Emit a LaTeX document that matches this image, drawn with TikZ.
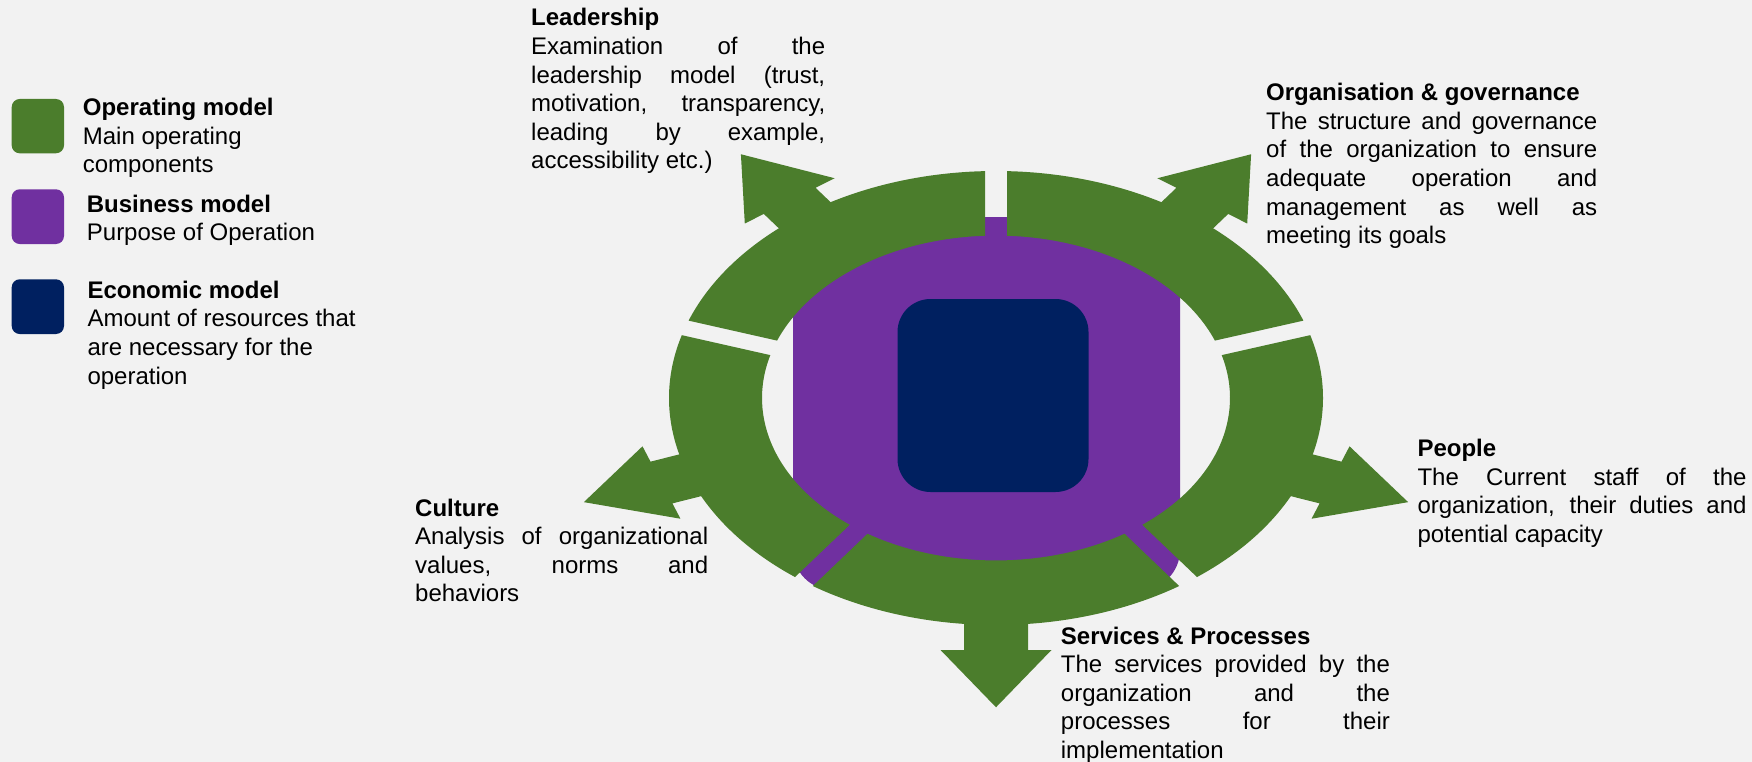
\documentclass[tikz,border=0pt]{standalone}
\usepackage{fontspec}
\setmainfont{Liberation Sans}
\usetikzlibrary{calc}
\definecolor{bg}{HTML}{F2F2F2}
\definecolor{opgreen}{HTML}{4B7D2C}
\definecolor{bizpurple}{HTML}{7030A0}
\definecolor{econavy}{HTML}{002060}
\newcommand{\jline}[2]{\makebox[#1][s]{#2}}
\newcommand{\ringseg}[2]{%
  \fill[opgreen] ({#1+1.928}:327) arc[start angle={#1+1.928}, end angle={#2-1.928}, radius=327]
    -- ({#2-2.694}:234) arc[start angle={#2-2.694}, end angle={#1+2.694}, radius=234] -- cycle;}
% #1 angle, #2 head base radius, #3 tip radius
\newcommand{\ringarrow}[3]{%
  \fill[opgreen, rotate=#1] (300,-32) -- (#2,-32) -- (#2,-55.5) -- (#3,0) -- (#2,55.5) -- (#2,32) -- (300,32) -- cycle;}
\tikzset{
  desc/.style={anchor=base west, inner sep=0pt, font=\fontsize{24}{28.6}\selectfont, text=black},
  legsq/.style={rounded corners=8pt},
}
\begin{document}
\begin{tikzpicture}[x=1pt,y=-1pt]
\useasboundingbox (0,0) rectangle (1752,762);
\fill[bg] (0,0) rectangle (1752,762);
% legend
\fill[opgreen, legsq] (11.7,99) rectangle (64,153.3);
\fill[bizpurple, legsq] (11.7,189.3) rectangle (64,244);
\fill[econavy, legsq] (11.7,279.3) rectangle (64,334);
\node[desc] (legop) at (82.7,115.7) {\parbox[t]{300pt}{\textbf{Operating model}\\Main operating\\components}};
\node[desc] (legbiz) at (86.7,212.3) {\parbox[t]{300pt}{\textbf{Business model}\\Purpose of Operation}};
\node[desc] (legeco) at (87.3,298.3) {\parbox[t]{300pt}{\textbf{Economic model}\\Amount of resources that\\are necessary for the\\operation}};
% business model
\fill[bizpurple, rounded corners=40pt] (793,217) rectangle (1180,590);
% ring
\begin{scope}[shift={(996,398)}, x=1pt, y=1pt, yscale=0.6942]
  \ringseg{18}{90}
  \ringseg{90}{162}
  \ringseg{162}{234}
  \ringseg{234}{306}
  \ringseg{306}{378}
  \ringarrow{54}{351}{434}
  \ringarrow{126}{351}{434}
  \ringarrow{200}{356}{438.6}
  \ringarrow{270}{363}{445.5}
  \ringarrow{340}{356}{438.6}
\end{scope}
% economic model
\node[fill=econavy, rounded corners=33pt, minimum width=191pt, minimum height=193pt, inner sep=0pt] (econ) at (993,395.5) {};
% descriptions
\node[desc] (lead) at (531,26) {\parbox[t]{294pt}{\textbf{Leadership}\\
\jline{294pt}{Examination of the}\\
\jline{294pt}{leadership model (trust,}\\
\jline{294pt}{motivation, transparency,}\\
\jline{294pt}{leading by example,}\\
accessibility etc.)}};
\node[desc] (org) at (1266,100.7) {\parbox[t]{331pt}{\textbf{Organisation \& governance}\\
\jline{331pt}{The structure and governance}\\
\jline{331pt}{of the organization to ensure}\\
\jline{331pt}{adequate operation and}\\
\jline{331pt}{management as well as}\\
meeting its goals}};
\node[desc] (people) at (1417.3,456.7) {\parbox[t]{329pt}{\textbf{People}\\
\jline{329pt}{The Current staff of the}\\
\jline{329pt}{organization, their duties and}\\
potential capacity}};
\node[desc] (culture) at (415,516) {\parbox[t]{293pt}{\textbf{Culture}\\
\jline{293pt}{Analysis of organizational}\\
\jline{293pt}{values, norms and}\\
behaviors}};
\node[desc] (serv) at (1060.7,644) {\parbox[t]{329pt}{\textbf{Services \& Processes}\\
\jline{329pt}{The services provided by the}\\
\jline{329pt}{organization and the}\\
\jline{329pt}{processes for their}\\
implementation}};
\end{tikzpicture}
\end{document}
